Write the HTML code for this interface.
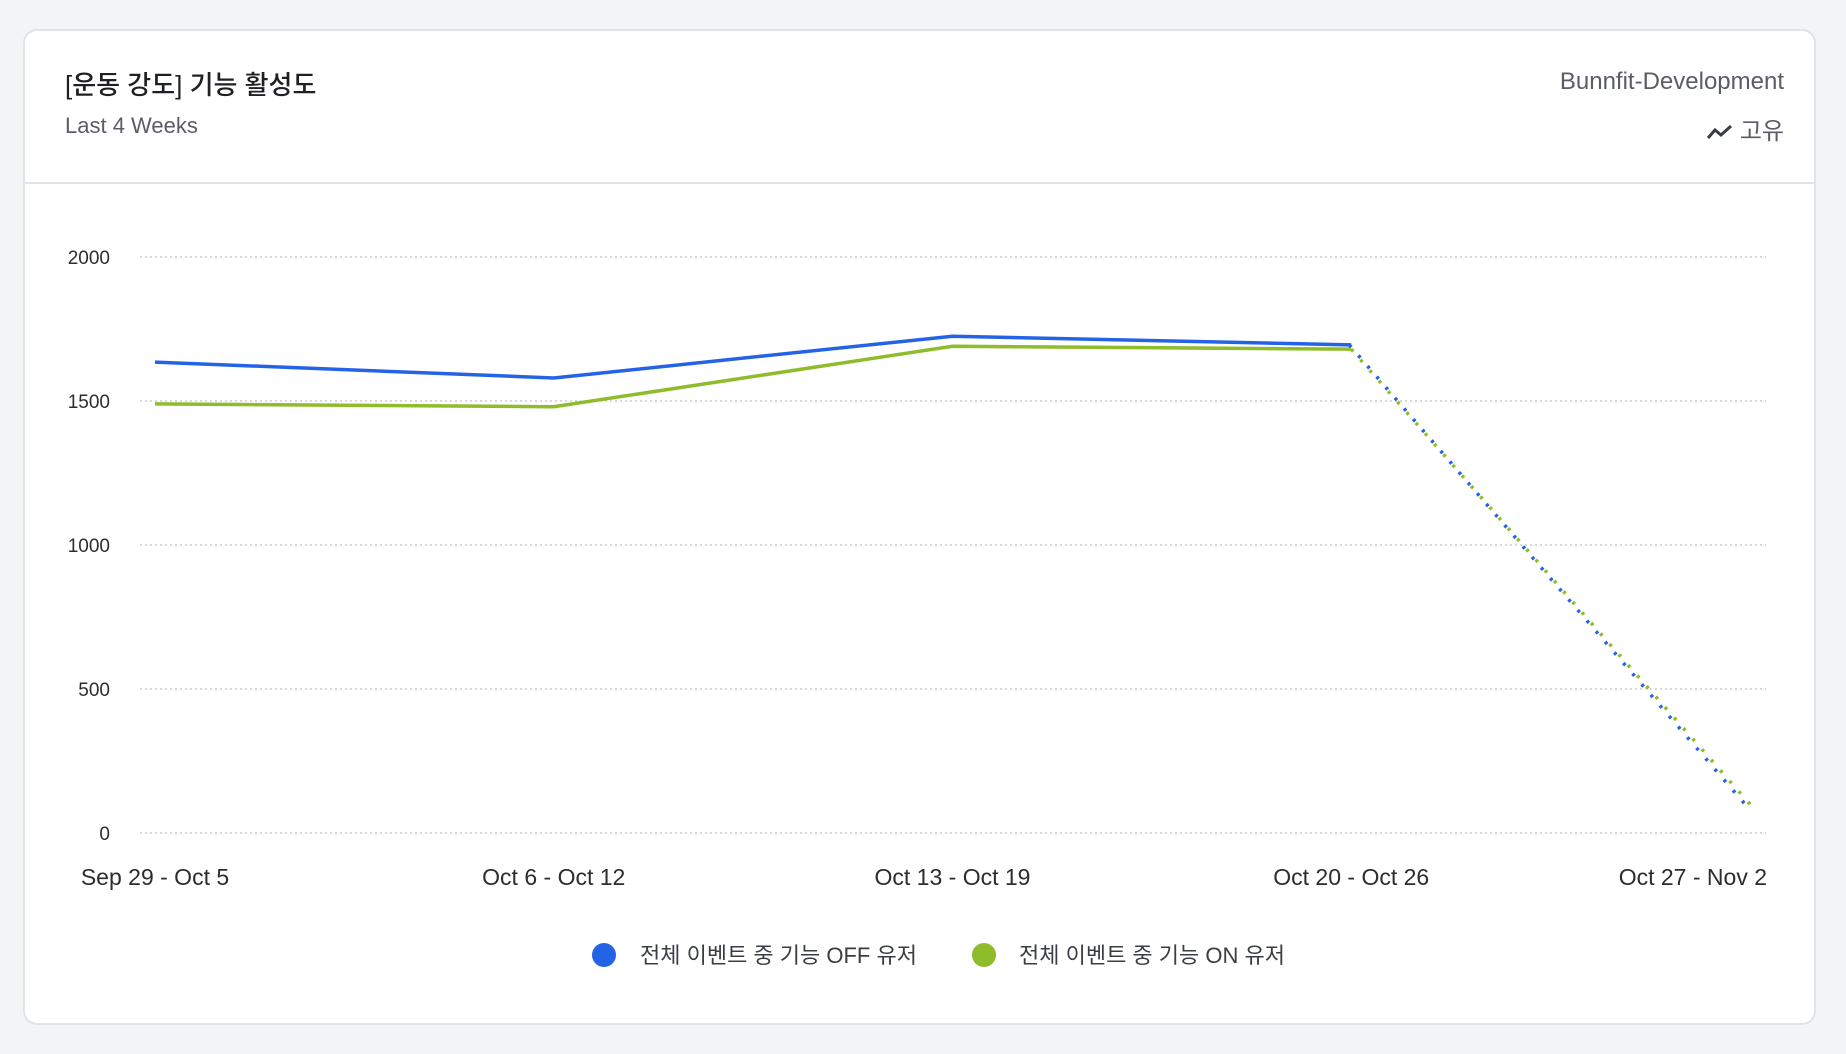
<!DOCTYPE html>
<html><head><meta charset="utf-8"><style>
body{margin:0;width:1846px;height:1054px;background:#f3f4f6;font-family:"Liberation Sans","Noto Sans CJK KR",sans-serif;overflow:hidden}
.card{position:absolute;left:23px;top:29px;width:1793px;height:996px;background:#fff;border:2px solid #e1e3e8;border-radius:14px;box-sizing:border-box}
.t{position:absolute;color:#1f2023}
</style></head><body>
<div class="card">
<div class="t" style="left:40px;top:34px;font-size:26px;font-weight:500">[운동 강도] 기능 활성도</div>
<div class="t" style="left:40px;top:82px;font-size:22px;color:#5a5d66">Last 4 Weeks</div>
<div class="t" style="right:30px;top:37px;font-size:24px;color:#5a5d66">Bunnfit-Development</div>
<div class="t" style="right:30px;top:80px;font-size:24px;color:#5a5d66"><svg width="28" height="18" viewBox="0 0 28 18" style="vertical-align:-2px;margin-right:6px"><polyline points="2,15 9,7 15,12 25,3" fill="none" stroke="#3a3d44" stroke-width="3"/></svg>고유</div>
<div style="position:absolute;left:0;right:0;top:151px;height:2px;background:#e1e3e8"></div>
</div>
<svg id="chart" width="1846" height="1054" style="position:absolute;left:0;top:0"></svg>
<script>
const categories=["Sep 29 - Oct 5","Oct 6 - Oct 12","Oct 13 - Oct 19","Oct 20 - Oct 26","Oct 27 - Nov 2"];
const offValues=[1635,1580,1725,1695,88];
const onValues=[1490,1480,1690,1680,100];
const yTicks=[0,500,1000,1500,2000];
const seriesNames=["전체 이벤트 중 기능 OFF 유저","전체 이벤트 중 기능 ON 유저"];
const ns="http://www.w3.org/2000/svg",svg=document.getElementById('chart');
const X=i=>155+i*(1750-155)/(categories.length-1);
const Y=v=>833-v*(833-257)/2000;
function mk(t,a,txt){const e=document.createElementNS(ns,t);for(const k in a)e.setAttribute(k,a[k]);if(txt!==undefined)e.textContent=txt;svg.appendChild(e);return e;}
yTicks.forEach(v=>{
 const g=mk('line',{x1:140,x2:1766,y1:Y(v),y2:Y(v),stroke:'#c9ccd2','stroke-width':1.5,'stroke-dasharray':'2 3'});
 
 
 const t=mk('text',{x:110,y:Y(v)+7,'text-anchor':'end','font-size':19,fill:'#2b2d31'},String(v));
 
 
});
categories.forEach((c,i)=>{
 const last=i===categories.length-1;
 const t=mk('text',{x:last?1767:X(i),y:885,'text-anchor':last?'end':'middle','font-size':23,fill:'#2b2d31'},c);
 
 
});
function series(vals,color,name,dx){
 const n=vals.length;
 const solid=vals.slice(0,n-1).map((v,i)=>X(i)+','+Y(v)).join(' ');
 const p=mk('polyline',{points:solid,fill:'none',stroke:color,'stroke-width':3.5,'stroke-linejoin':'round'});
 
 
 const d=mk('line',{x1:X(n-2)+dx,y1:Y(vals[n-2]),x2:X(n-1)+dx,y2:Y(vals[n-1]),stroke:color,'stroke-width':3.5,'stroke-dasharray':'3 11'});
 
 
}
series(onValues,'#8fbc2a','on-series',0);
series(offValues,'#2563e6','off-series',-2);
const leg=[[604,640,'#2563e6',seriesNames[0]],[984,1019,'#8fbc2a',seriesNames[1]]];
leg.forEach((l,i)=>{
 const c=mk('circle',{cx:l[0],cy:955,r:12,fill:l[2]});
 
 
 const t=mk('text',{x:l[1],y:963,'font-size':22,fill:'#3a3d44'},l[3]);
 
 
});
</script>
</body></html>
